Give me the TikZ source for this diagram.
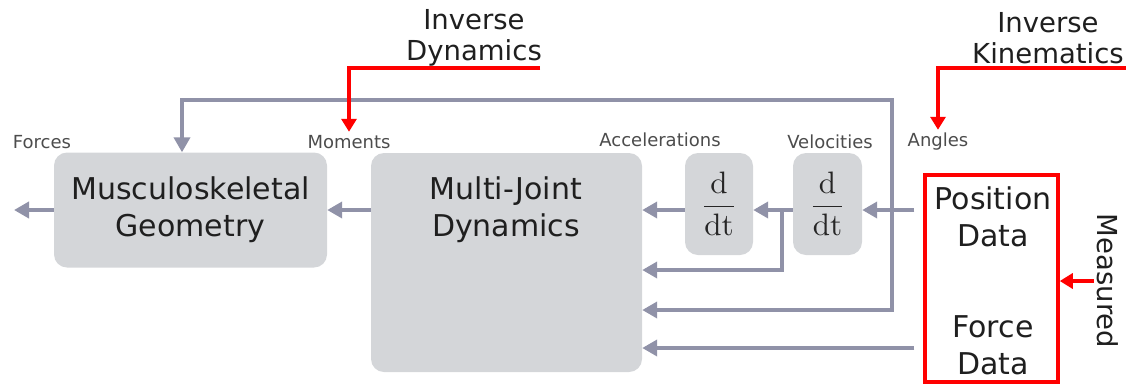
\documentclass[tikz,border=0pt]{standalone}
\usepackage[no-math]{fontspec}
\setmainfont{DejaVu Sans}
\usetikzlibrary{positioning, arrows.meta}
\definecolor{boxgray}{HTML}{D4D6D9}
\definecolor{flowgray}{HTML}{9092A8}
\newcommand{\ddtfrac}{\scalebox{3.1}{$\displaystyle\frac{\mathrm{d}}{\mathrm{dt}}$}}

\begin{document}
\begin{tikzpicture}[x=1pt,y=-1pt,
  block/.style={fill=boxgray, rounded corners=13pt, inner sep=0pt},
  bigtxt/.style={align=center, font=\fontsize{30}{37}\selectfont, text=black!88},
  lbl/.style={font=\fontsize{18}{20}\selectfont, text=black!70},
  ttl/.style={align=center, font=\fontsize{27.5}{31}\selectfont, text=black!88},
  flow/.style={flowgray, line width=4.5pt, -{Triangle[length=15pt,width=16pt]}},
  redflow/.style={red, line width=3.5pt, -{Triangle[length=13pt,width=15pt]}}]
  \useasboundingbox (0,0) rectangle (1126,384);

  % blocks
  \node[block, minimum width=273pt, minimum height=115pt] (musc) at (190.5,210) {};
  \node[bigtxt] at (musc) {Musculoskeletal\\Geometry};
  \node[block, minimum width=271pt, minimum height=219pt] (mjd) at (506.5,262.5) {};
  \node[bigtxt] (mjdtxt) at (506,210) {Multi-Joint\\Dynamics};
  \node[block, minimum width=68pt, minimum height=102pt, text=black!85] (ddtacc) at (719,204) {\ddtfrac};
  \node[block, minimum width=69pt, minimum height=102pt, text=black!85] (ddtvel) at (827.5,204) {\ddtfrac};
  \node[draw=red, line width=3.5pt, minimum width=133pt, minimum height=207pt] (meas) at (991.5,278.5) {};
  \node[bigtxt] (postxt) at (993,217) {Position\\Data};
  \node[bigtxt] (forcetxt) at (993,345) {Force\\Data};

  % small labels
  \node[lbl] (forces) at (42,142) {Forces};
  \node[lbl] (moments) at (349,142) {Moments};
  \node[lbl] (accel) at (660,140) {Accelerations};
  \node[lbl] (veloc) at (830,142) {Velocities};
  \node[lbl] (angles) at (938,142) {Angles};
  \node[ttl] (invdyn) at (474,38) {Inverse\\Dynamics};
  \node[ttl] (invkin) at (1048,38) {Inverse\\Kinematics};
  \node[ttl, rotate=-90] (measlbl) at (1108,281) {Measured};

  % connectors
  \coordinate (forcesout) at (14,210);
  \coordinate (velbranch) at (782,210);
  \coordinate (anglestap) at (892,100);
  \draw[flow] (musc.west) -- (forcesout);
  \draw[flow] (mjd.west |- musc.west) -- (musc.east);
  \draw[flow] (ddtacc.west |- musc.west) -- (mjd.east |- musc.west);
  \draw[flow] (ddtvel.west |- musc.west) -- (ddtacc.east |- musc.west);
  \draw[flow] (velbranch) -- (782,270) -- (mjd.east |- 0,270);
  \draw[flow, line cap=rect] (anglestap) -- (182,100) -- (musc.north -| 182,0);
  \draw[flow, line cap=rect] (anglestap) -- (892,310) -- (mjd.east |- 0,310);
  \draw[flow, shorten <=9pt] (meas.west |- musc.west) -- (ddtvel.east |- musc.west);
  \draw[flow, shorten <=9pt] (meas.west |- 0,348) -- (mjd.east |- 0,348);

  % red call-outs
  \coordinate (invdynend) at (540,68);
  \coordinate (invkinend) at (1126,68);
  \draw[redflow] (invdynend) -- (invdynend -| moments.north) -- (moments.north);
  \draw[redflow] (invkinend) -- (invkinend -| angles.north) -- (angles.north);
  \draw[redflow] (measlbl.south) -- (meas.east |- measlbl.south);
\end{tikzpicture}
\end{document}
